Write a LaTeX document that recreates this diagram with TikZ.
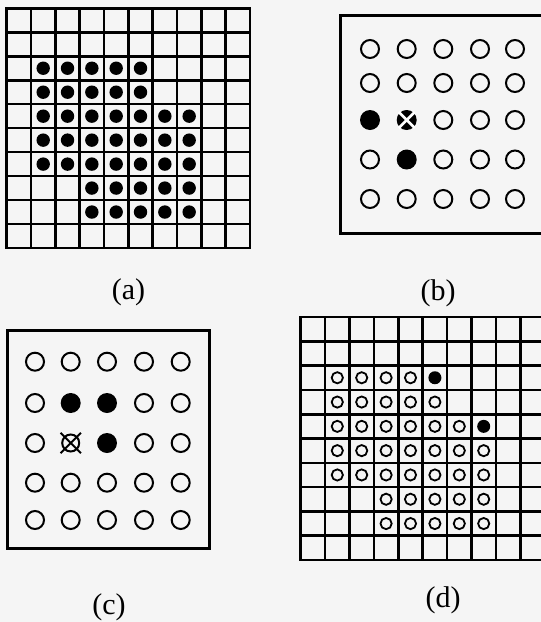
\documentclass[tikz,border=0pt]{standalone}
\usepackage{fontspec}
\setmainfont{Liberation Serif}
\begin{document}
\begin{tikzpicture}[x=1pt,y=-1pt,
  gridline/.style={line width=2.6pt, line cap=rect},
  boxline/.style={line width=3pt, line join=miter},
  bigopen/.style={line width=2pt},
  smallopen/.style={line width=1.8pt},
  whitex/.style={white, line width=2.6pt},
  blackx/.style={line width=2pt},
  lbl/.style={font=\fontsize{30}{36}\selectfont, inner sep=0pt}]
\useasboundingbox (0,0) rectangle (541,622);
\clip (0,0) rectangle (541,622);
\fill[black!4] (0,0) rectangle (541,622);

% ---------- panel (a) ----------
\foreach \i in {0,...,10} {
  \draw[gridline] ({6.7+\i*24.33},8.3) -- ({6.7+\i*24.33},248);
  \draw[gridline] (6.7,{8.3+\i*23.97}) -- (250,{8.3+\i*23.97});
}
\foreach \r/\a/\b in {2/1/5,3/1/5,4/1/7,5/1/7,6/1/7,7/3/7,8/3/7} {
  \foreach \c in {\a,...,\b}
    \fill ({6.7+(\c+0.5)*24.33},{8.3+(\r+0.5)*23.97}) circle (6.7pt);
}
\node[lbl] (la) at (128.5,292) {(a)};

% ---------- panel (b) ----------
\draw[boxline] (340.7,15.7) rectangle (560,233);
\foreach \yy [count=\r] in {49,83,120,159.5,199} {
  \foreach \xx [count=\c] in {370,406.7,443.3,480,515} {
    \ifnum\r=3
      \ifnum\c<3 \else \draw[bigopen] (\xx,\yy) circle (9pt); \fi
    \else\ifnum\r=4
      \ifnum\c=2 \else \draw[bigopen] (\xx,\yy) circle (9pt); \fi
    \else
      \draw[bigopen] (\xx,\yy) circle (9pt);
    \fi\fi
  }
}
\fill (370,120) circle (10pt);
\fill (406.7,159.5) circle (10pt);
\fill (406.7,120) circle (10pt);
\draw[whitex] (398.7,112) -- (414.7,128);
\draw[whitex] (398.7,128) -- (414.7,112);
\node[lbl] (lb) at (438,293) {(b)};

% ---------- panel (c) ----------
\draw[boxline] (7.3,330) rectangle (209,548);
\foreach \yy [count=\r] in {361.7,403,443,482.7,520} {
  \foreach \xx [count=\c] in {35,70.7,107,144,180.7} {
    \ifnum\r=2
      \ifnum\c<4 \ifnum\c=1 \draw[bigopen] (\xx,\yy) circle (9pt); \fi
      \else \draw[bigopen] (\xx,\yy) circle (9pt); \fi
    \else\ifnum\r=3
      \ifnum\c=3 \else\ifnum\c=2 \else \draw[bigopen] (\xx,\yy) circle (9pt); \fi\fi
    \else
      \draw[bigopen] (\xx,\yy) circle (9pt);
    \fi\fi
  }
}
\fill (70.7,403) circle (10pt);
\fill (107,403) circle (10pt);
\fill (107,443) circle (10pt);
\draw[bigopen] (70.7,443) circle (8.5pt);
\draw[blackx] (60.5,432.8) -- (80.9,453.2);
\draw[blackx] (60.5,453.2) -- (80.9,432.8);
\node[lbl] (lc) at (109,607) {(c)};

% ---------- panel (d) ----------
\foreach \i in {0,...,10} {
  \draw[gridline] ({300.7+\i*24.4},317) -- ({300.7+\i*24.4},560);
  \draw[gridline] (300.7,{317+\i*24.3}) -- (560,{317+\i*24.3});
}
\foreach \r/\a/\b in {2/1/4,3/1/5,4/1/6,5/1/7,6/1/7,7/3/7,8/3/7} {
  \foreach \c in {\a,...,\b}
    \draw[smallopen] ({300.7+(\c+0.5)*24.4},{317+(\r+0.5)*24.3}) circle (5.6pt);
}
\fill ({300.7+5.5*24.4},{317+2.5*24.3}) circle (6.5pt);
\fill ({300.7+7.5*24.4},{317+4.5*24.3}) circle (6.5pt);
\node[lbl] (ld) at (443,600.5) {(d)};
\end{tikzpicture}
\end{document}
